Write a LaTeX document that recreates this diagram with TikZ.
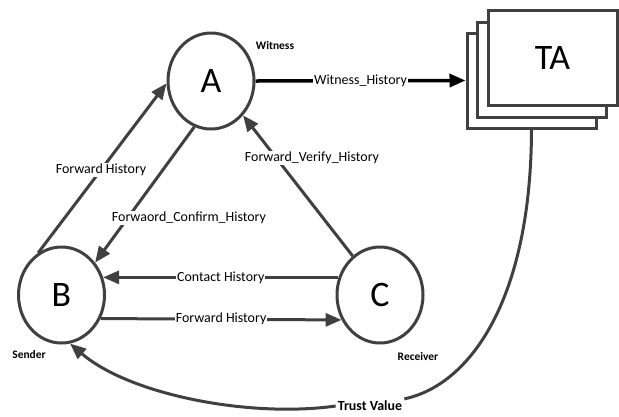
\documentclass[tikz,border=0pt]{standalone}
\usepackage{fontspec}
\setmainfont{Carlito}
\usetikzlibrary{arrows.meta,shapes.geometric}

\newlength{\du}
\setlength{\du}{1bp}

\definecolor{dialinecolor}{rgb}{0.250000, 0.250000, 0.250000}

\tikzset{
  peer/.style={ellipse, draw=dialinecolor, line width=3\du, fill=white,
    minimum width=86\du, minimum height=96\du, inner sep=0pt,
    font=\fontsize{36}{40}\selectfont},
  tabox/.style={rectangle, draw=dialinecolor, line width=3\du, fill=white,
    minimum width=129\du, minimum height=95\du, inner sep=0pt},
  conn/.style={draw=dialinecolor, line width=3\du},
  tip/.style={-{Triangle[length=16bp, width=13bp]}},
  lbl/.style={fill=white, inner sep=1\du, font=\fontsize{14}{16}\selectfont},
  role/.style={inner sep=0pt, font=\bfseries\fontsize{11.5}{13}\selectfont}
}

\begin{document}
\begin{tikzpicture}
\pgftransformxscale{1.000000}
\pgftransformyscale{-1.000000}
\useasboundingbox (0\du,0\du) rectangle (619\du,416\du);
% nodes
\node[peer] (A) at (211\du,81\du) {A};
\node[peer] (B) at (61.5\du,295\du) {B};
\node[peer] (C) at (380\du,295\du) {C};
\node[tabox] (ta3) at (531.5\du,80.5\du) {};
\node[tabox] (ta2) at (542\du,69.5\du) {};
\node[tabox, font=\fontsize{36}{40}\selectfont] (ta1) at (552.5\du,58\du) {TA};
\node[role] (witness) at (275\du,46\du) {Witness};
\node[role] (sender) at (29\du,355\du) {Sender};
\node[role] (receiver) at (418\du,357\du) {Receiver};
\node[role, font=\bfseries\fontsize{14}{16}\selectfont, inner sep=2\du] (trust) at (370\du,406\du) {Trust Value};
% connectors
\draw[conn, draw=black, line width=3.5\du, tip] (A.east) -- (ta3.west)
  node[lbl, pos=0.5, text=black] {Witness\_History};
\draw[conn, tip] (B.119) -- (A.183)
  node[lbl, pos=0.49] {Forward History};
\draw[conn, tip] (A.250) -- (B.44);
\draw[conn, tip] (C.125) -- (A.313);
\draw[conn, tip] (C.157) -- (B.23)
  node[lbl, pos=0.5] {Contact History};
\draw[conn, tip] (B.329) -- (C.213)
  node[lbl, pos=0.5] {Forward History};
\node[lbl] (confirm) at (189\du,218\du) {Forwaord\_Confirm\_History};
\node[lbl] (verify) at (312\du,158\du) {Forward\_Verify\_History};
% trust value back to the sender
\draw[conn] (ta3.south) .. controls (531\du,300\du) and (470\du,385\du) .. (trust.north east);
\draw[conn, tip] (trust.west) .. controls (250\du,418\du) and (130\du,395\du) .. (B.280);
\end{tikzpicture}
\end{document}
